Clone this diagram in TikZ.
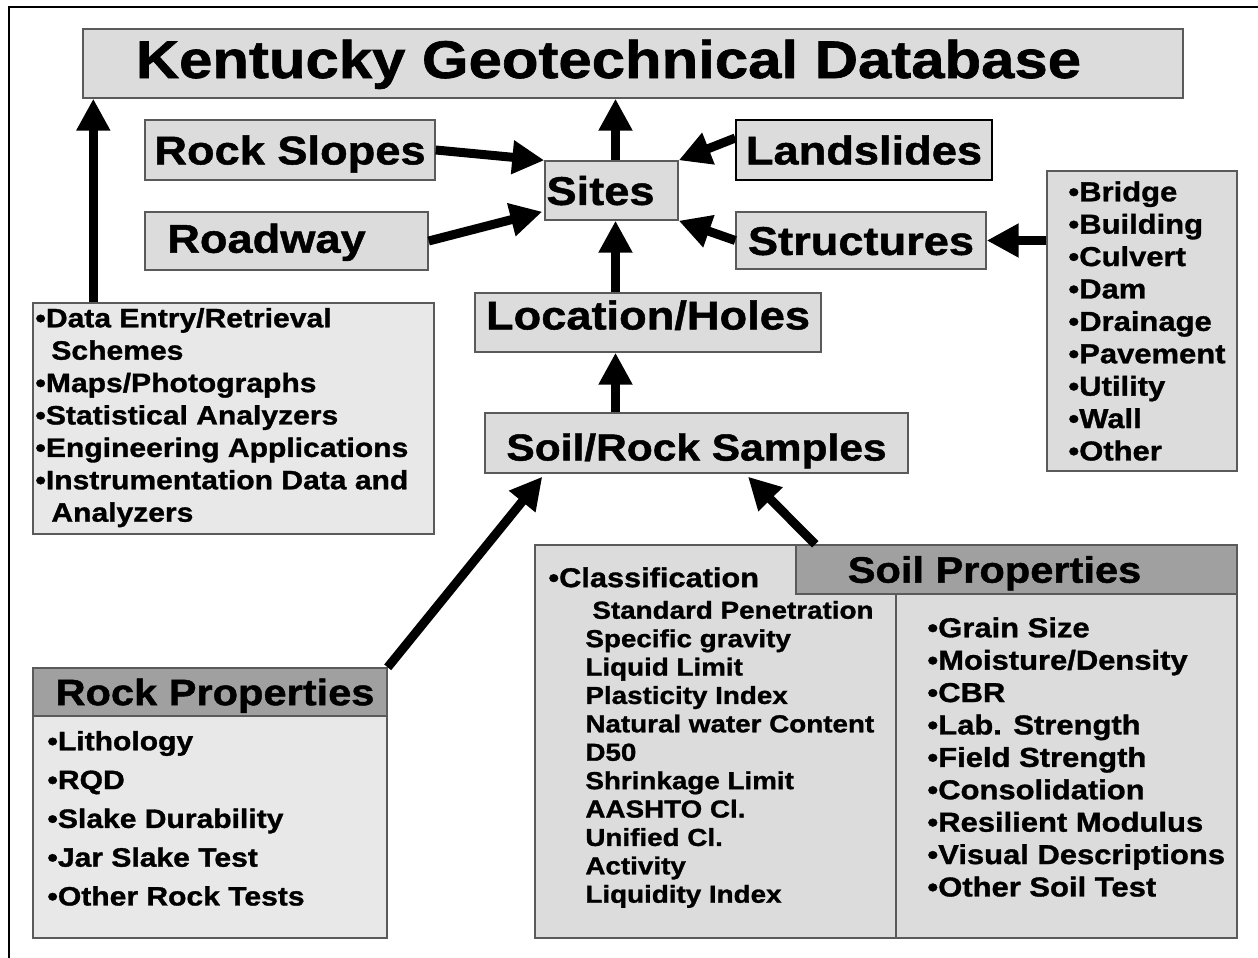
\documentclass[tikz,border=0pt]{standalone}
\usepackage{fontspec}
\usetikzlibrary{arrows.meta,calc}

\newfontfamily\kgfont{Liberation Sans}[FakeStretch=1.13, BoldFeatures={FakeBold=1.2}]
\newcommand\kgsize[2]{\kgfont\bfseries\fontsize{#1}{#2}\selectfont}

\definecolor{boxfill}{HTML}{DCDCDC}
\definecolor{listfill}{HTML}{E8E8E8}
\definecolor{headfill}{HTML}{A0A0A0}
\definecolor{boxline}{HTML}{5A5A5A}

\begin{document}
\begin{tikzpicture}[
    x=0.5pt, y=-0.5pt,
    box/.style={draw=boxline, fill=boxfill, line width=0.7pt, inner sep=0pt},
    tag/.style={box, font=\kgsize{20}{24}, text height=14.4pt, text depth=0pt},
    headbox/.style={box, fill=headfill, font=\kgsize{18.4}{22}, text height=13.2pt, text depth=0pt},
    listtext/.style={anchor=north west, inner sep=0pt, align=left},
    arr/.style={line width=4.5pt, -{Triangle[width=16pt,length=16pt]}}
]
\useasboundingbox (0,0) rectangle (1258,958);

% outer frame
\draw[line width=1.2pt] (9,962) |- (1262,7);

% main boxes
\node[box, minimum width=550pt, minimum height=34.5pt, font=\kgsize{26.5}{30}, text height=19pt, text depth=4.5pt] (title) at (633,63.5) {\hspace*{-24.5pt}Kentucky Geotechnical Database};
\node[tag, minimum width=145pt, minimum height=30pt] (rockslopes) at (290,150) {Rock Slopes};
\node[tag, minimum width=141.5pt, minimum height=29pt, text depth=2.7pt] (roadway) at (286.5,241) {\hspace*{-20pt}Roadway};
\node[tag, minimum width=66.5pt, minimum height=29.5pt] (sites) at (611.5,190.5) {\hspace*{-11pt}Sites};
\node[tag, minimum width=128pt, minimum height=30pt, draw=black] (landslides) at (864,150) {Landslides};
\node[tag, minimum width=125pt, minimum height=28.5pt] (structures) at (861,240.5) {Structures};
\node[tag, minimum width=173pt, minimum height=29.5pt, text depth=7.5pt] (location) at (648,322.5) {Location/Holes};
\node[tag, minimum width=211.5pt, minimum height=30pt, font=\kgsize{18.8}{22}, text height=17.5pt] (samples) at (696.5,443) {Soil/Rock Samples};

% tools list
\node[box, fill=listfill, minimum width=200.5pt, minimum height=115.5pt] (tools) at (233.5,418.5) {};
\node[listtext, font=\kgsize{13.3}{16.2}] (toolstext) at (35,307.6) {%
  •Data Entry/Retrieval\\\hspace*{8pt}Schemes\\•Maps/Photographs\\•Statistical Analyzers\\%
  •Engineering Applications\\•Instrumentation Data and\\\hspace*{8pt}Analyzers};

% structure kinds
\node[box, minimum width=95pt, minimum height=150pt] (kinds) at (1142,321) {};
\node[listtext, font=\kgsize{13.7}{16.2}] (kindstext) at (1068,181) {%
  •Bridge\\•Building\\•Culvert\\•Dam\\•Drainage\\•Pavement\\•Utility\\•Wall\\•Other};

% rock properties
\node[box, fill=listfill, minimum width=177pt, minimum height=111pt] (rockbody) at (210,827) {};
\node[headbox, minimum width=177pt, minimum height=24pt] (rockhead) at (210,692) {\hspace*{5pt}Rock Properties};
\node[listtext, font=\kgsize{13.3}{19.4}] (rocktext) at (47,730.6) {%
  •Lithology\\•RQD\\•Slake Durability\\•Jar Slake Test\\•Other Rock Tests};

% soil properties
\node[box, minimum width=351pt, minimum height=196.5pt] (soilbox) at (886,741.5) {};
\node[headbox, minimum width=220.5pt, minimum height=24.5pt] (soilhead) at (1016.5,569.5) {\hspace*{-22pt}Soil Properties};
\coordinate (split) at (896,0);
\draw[boxline, line width=0.7pt] (soilhead.south -| split) -- (soilbox.south -| split);
\node[listtext, font=\kgsize{13.6}{16}] (classif) at (548,567) {•Classification};
\node[listtext, font=\kgsize{12.3}{14.2}] (classtext) at (585,600.5) {%
  \hspace*{3.5pt}Standard Penetration\\Specific gravity\\Liquid Limit\\Plasticity Index\\%
  Natural water Content\\D50\\Shrinkage Limit\\AASHTO Cl.\\Unified Cl.\\Activity\\Liquidity Index};
\node[listtext, font=\kgsize{13.7}{16.2}] (soiltext) at (927,617) {%
  •Grain Size\\•Moisture/Density\\•CBR\\•Lab. Strength\\•Field Strength\\%
  •Consolidation\\•Resilient Modulus\\•Visual Descriptions\\•Other Soil Test};

% connectors
\coordinate (toolsup) at ($(tools.north west)+(61,0)$);
\coordinate (spine) at ($(sites.north)+(4,0)$);
\draw[arr] (toolsup) -- (toolsup |- title.south);
\draw[arr] (spine |- sites.north) -- (spine |- title.south);
\draw[arr] (spine |- location.north) -- (spine |- sites.south);
\draw[arr] (spine |- samples.north) -- (spine |- location.south);
\draw[arr] (rockslopes.east) -- (sites.north west);
\draw[arr] ($(landslides.west)+(0,-12)$) -- (sites.north east);
\draw[arr] (roadway.east) -- ($(sites.south west)+(-2,-9)$);
\draw[arr] (structures.west) -- (sites.south east);
\draw[arr] (kinds.west |- structures.east) -- (structures.east);
\draw[arr] (rockhead.north east) -- ($(samples.south west)+(58,3)$);
\draw[arr] ($(soilhead.north west)+(20,0)$) -- ($(samples.south)+(51.5,3)$);

\end{tikzpicture}
\end{document}
